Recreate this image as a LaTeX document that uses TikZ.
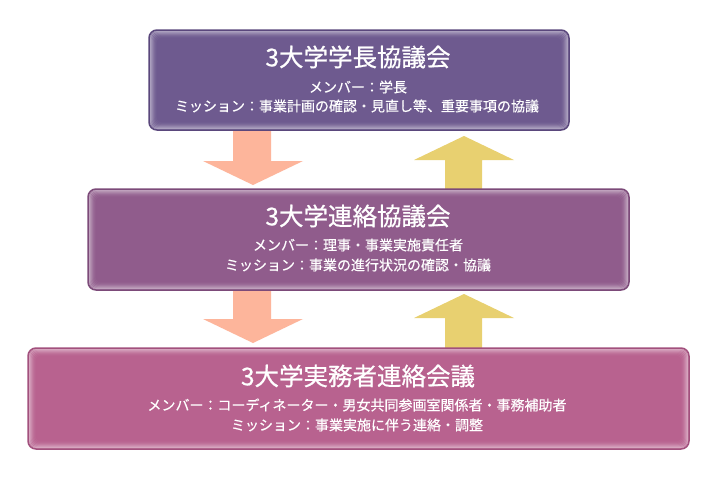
\documentclass[tikz,border=0pt]{standalone}
\usepackage{fontspec}
\newfontfamily\jp[FakeBold=0.7]{Noto Sans CJK JP}
\newfontfamily\jpsub[FakeBold=0.4]{Noto Sans CJK JP}
\definecolor{fillA}{HTML}{6E5A8F}
\definecolor{edgeA}{HTML}{5A477C}
\definecolor{fillB}{HTML}{905C8C}
\definecolor{edgeB}{HTML}{7C4A79}
\definecolor{fillC}{HTML}{B8628F}
\definecolor{edgeC}{HTML}{A2507D}
\definecolor{salmon}{HTML}{FDB59B}
\definecolor{mustard}{HTML}{E8D070}
\tikzset{
  panel/.style={rectangle, rounded corners=8pt, line width=1.5pt, inner sep=0pt,
    path picture={\foreach \i/\o in {1/0.42,2/0.33,3/0.25,4/0.18,5/0.11,6/0.06,7/0.03}{
      \draw[white, opacity=\o, line width=1.1pt, rounded corners=6pt]
        ([shift={(\i pt,-\i pt)}]path picture bounding box.north west) rectangle
        ([shift={(-\i pt,\i pt)}]path picture bounding box.south east);}}},
  ttl/.style={text=white, inner sep=0pt, font=\jp\fontsize{24.5}{25}\selectfont},
  sub/.style={text=white, inner sep=0pt, font=\jpsub\fontsize{14}{14}\selectfont},
}
\begin{document}
\begin{tikzpicture}[x=1pt,y=-1pt]
\useasboundingbox (0,0) rectangle (716,480);
\fill[white] (0,0) rectangle (716,480);
% arrows (down, salmon)
\fill[salmon] (233,130) -- (271,130) -- (271,161) -- (303,161) -- (253,185) -- (203,161) -- (233,161) -- cycle;
\fill[salmon] (233,290) -- (271,290) -- (271,319) -- (303,319) -- (253,343) -- (203,319) -- (233,319) -- cycle;
% arrows (up, yellow)
\fill[mustard] (445,189) -- (482,189) -- (482,160) -- (514,160) -- (464,136) -- (414,160) -- (445,160) -- cycle;
\fill[mustard] (445,348) -- (482,348) -- (482,318) -- (514,318) -- (464,294) -- (414,318) -- (445,318) -- cycle;
% boxes
\node[panel, fill=fillA, draw=edgeA, minimum width=420pt, minimum height=100pt] (b1) at (359,80) {};
\node[panel, fill=fillB, draw=edgeB, minimum width=541pt, minimum height=101pt] (b2) at (358.5,239.5) {};
\node[panel, fill=fillC, draw=edgeC, minimum width=661pt, minimum height=101pt] (b3) at (358.5,398.5) {};
% texts
\node[ttl] (t1) at (358,57) {3大学学長協議会};
\node[sub] (m1) at (358,87) {メンバー：学長};
\node[sub] (s1) at (357,106) {ミッション：事業計画の確認・見直し等、重要事項の協議};
\node[ttl] (t2) at (358,216) {3大学連絡協議会};
\node[sub] (m2) at (358,245) {メンバー：理事・事業実施責任者};
\node[sub] (s2) at (358,265) {ミッション：事業の進行状況の確認・協議};
\node[ttl] (t3) at (358,376) {3大学実務者連絡会議};
\node[sub] (m3) at (357,405) {メンバー：コーディネーター・男女共同参画室関係者・事務補助者};
\node[sub] (s3) at (357,425) {ミッション：事業実施に伴う連絡・調整};
\end{tikzpicture}
\end{document}
